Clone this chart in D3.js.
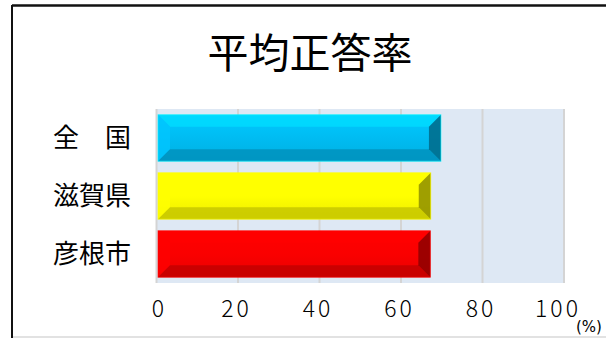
<!DOCTYPE html>
<html><head><meta charset="utf-8">
<script src="https://cdn.jsdelivr.net/npm/d3@7"></script>
<style>
html,body{margin:0;padding:0;background:#fff;}
svg{display:block;}
</style></head>
<body>
<script>
const title = "平均正答率";
const categories = ["全　国", "滋賀県", "彦根市"];
const values = [69.8, 67.3, 67.2];
const barColors = ["#00bcf2", "#ffff00", "#fa0000"];
const tickValues = [0, 20, 40, 60, 80, 100];
const unitLabel = "(%)";

const W = 606, H = 338;
const svg = d3.select("body").append("svg").attr("width", W).attr("height", H);

// frame
svg.append("line").attr("x1", 12).attr("x2", 12).attr("y1", 5).attr("y2", H).attr("stroke", "#111").attr("stroke-width", 2);
svg.append("line").attr("x1", 12).attr("x2", W).attr("y1", 5.5).attr("y2", 5.5).attr("stroke", "#111").attr("stroke-width", 2.5);
svg.append("line").attr("x1", 13).attr("x2", W).attr("y1", 337).attr("y2", 337).attr("stroke", "#d8d8d8").attr("stroke-width", 1.5);

const m = {left: 156.5, right: 564, top: 109, bottom: 283};
const x = d3.scaleLinear().domain([0, 100]).range([m.left, m.right]);
const y = d3.scaleBand().domain(categories).range([m.top, m.bottom]).paddingInner(0.2).paddingOuter(0.1);

// plot background
svg.append("rect").attr("x", x(0)).attr("y", m.top).attr("width", x(100) - x(0)).attr("height", m.bottom - m.top).attr("fill", "#dee8f4");

// gridlines
svg.append("g").selectAll("line").data(tickValues).join("line")
  .attr("x1", d => x(d)).attr("x2", d => x(d))
  .attr("y1", m.top).attr("y2", m.bottom)
  .attr("stroke", "#d4d4d4").attr("stroke-width", 2);

// title
svg.append("text").attr("x", 310).attr("y", 68).attr("text-anchor", "middle")
  .attr("font-family", "'Noto Sans CJK JP', sans-serif").attr("font-size", 41).attr("fill", "#000")
  .text(title);

// category labels
svg.append("g").selectAll("text").data(categories).join("text")
  .attr("x", 131).attr("y", d => y(d) + y.bandwidth() / 2 + 9)
  .attr("text-anchor", "end")
  .attr("font-family", "'Noto Sans CJK JP', sans-serif").attr("font-size", 26).attr("fill", "#000")
  .text(d => d);

// bars with bevel
const bv = 12;
const defs = svg.append("defs");
categories.forEach((c, i) => {
  const g = defs.append("linearGradient").attr("id", "g" + i).attr("x1", 0).attr("x2", 0).attr("y1", 0).attr("y2", 1);
  const col = d3.color(barColors[i]);
  g.append("stop").attr("offset", "0%").attr("stop-color", col.brighter(0.2));
  g.append("stop").attr("offset", "50%").attr("stop-color", col);
  g.append("stop").attr("offset", "100%").attr("stop-color", col.darker(0.2));
});
const bars = svg.append("g").selectAll("g").data(categories).join("g");
bars.each(function(c, i) {
  const gg = d3.select(this);
  const x0 = x(0) + 1.5, x1 = x(values[i]), y0 = y(c), y1 = y(c) + y.bandwidth();
  const col = d3.color(barColors[i]);
  gg.append("rect").attr("x", x0).attr("y", y0).attr("width", x1 - x0).attr("height", y1 - y0)
    .attr("fill", `url(#g${i})`);
  const poly = (pts, fill, op) => gg.append("polygon").attr("points", pts.map(p => p.join(",")).join(" ")).attr("fill", fill).attr("opacity", op);
  poly([[x0, y0], [x1, y0], [x1 - bv, y0 + bv], [x0 + bv, y0 + bv]], col.brighter(0.45), 0.75);
  poly([[x0, y0], [x0 + bv, y0 + bv], [x0 + bv, y1 - bv], [x0, y1]], col.brighter(0.15), 0.8);
  poly([[x0, y1], [x0 + bv, y1 - bv], [x1 - bv, y1 - bv], [x1, y1]], col.darker(0.7), 0.85);
  poly([[x1, y0], [x1, y1], [x1 - bv, y1 - bv], [x1 - bv, y0 + bv]], col.darker(1.5), 0.9);
  gg.append("rect").attr("x", x0).attr("y", y0).attr("width", x1 - x0).attr("height", y1 - y0)
    .attr("fill", "none").attr("stroke", col.brighter(0.8)).attr("stroke-opacity", 0.6).attr("stroke-width", 1);
});

// x axis labels
const axis = d3.axisBottom(x).tickValues(tickValues).tickSize(0).tickFormat(d3.format("d"));
const ax = svg.append("g").attr("transform", `translate(0,${m.bottom})`).call(axis);
ax.select(".domain").remove();
ax.selectAll("text")
  .attr("y", 0).attr("dy", 0)
  .attr("transform", "translate(0,34)")
  .attr("dx", function(d) { return 1 - 4.5 * (String(d).length - 1) + 1.5; })
  .attr("font-family", "'Noto Sans CJK JP', sans-serif").attr("font-size", 23).attr("font-weight", 300)
  .attr("letter-spacing", 3).attr("fill", "#000");

svg.append("text").attr("x", 589).attr("y", 332).attr("text-anchor", "middle")
  .attr("font-family", "'DejaVu Sans', sans-serif").attr("font-size", 15).attr("fill", "#000")
  .text(unitLabel);
</script>
</body></html>
